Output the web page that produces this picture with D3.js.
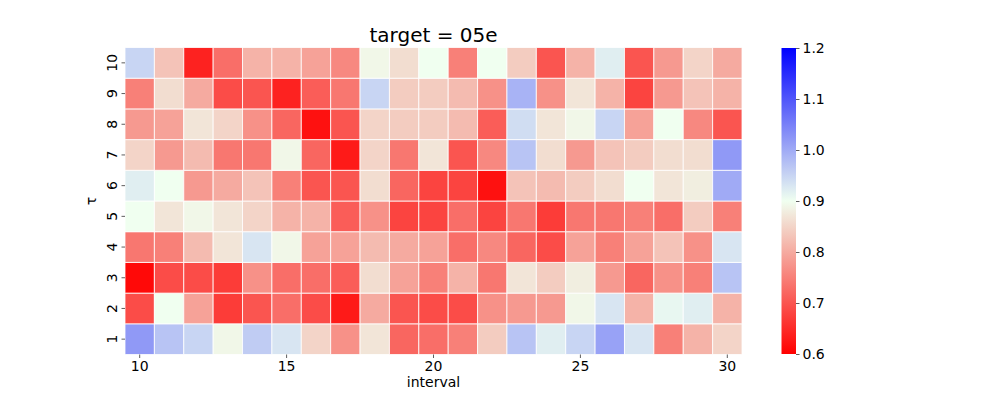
<!DOCTYPE html>
<html>
 <head>
    <title>Heatmap</title>
    <script src="https://d3js.org/d3.v7.min.js"></script>
    <style>
      body { margin: 0; background: #fff; }
      text { font-family: "DejaVu Sans", sans-serif; fill: #000; }
    </style>
 </head>
 <body>
    <div id="heatmap"></div>
    <script>
      // x categories (interval) and y categories (tau)
      var intervals = d3.range(10, 31);
      var taus = [1, 2, 3, 4, 5, 6, 7, 8, 9, 10];

      // one row of values per tau, columns are interval 10..30
      var tau1  = [1.02, 0.97, 0.95, 0.89, 0.96, 0.93, 0.85, 0.77, 0.87, 0.72, 0.73, 0.75, 0.84, 0.97, 0.92, 0.95, 1.01, 0.93, 0.75, 0.81, 0.85];
      var tau2  = [0.69, 0.90, 0.79, 0.67, 0.70, 0.73, 0.69, 0.63, 0.80, 0.70, 0.69, 0.69, 0.77, 0.78, 0.78, 0.89, 0.93, 0.81, 0.91, 0.92, 0.81];
      var tau3  = [0.61, 0.69, 0.69, 0.67, 0.77, 0.73, 0.73, 0.71, 0.86, 0.79, 0.75, 0.81, 0.74, 0.87, 0.84, 0.88, 0.78, 0.72, 0.77, 0.75, 0.97];
      var tau4  = [0.74, 0.75, 0.82, 0.87, 0.93, 0.89, 0.79, 0.79, 0.82, 0.80, 0.79, 0.73, 0.76, 0.72, 0.69, 0.79, 0.75, 0.79, 0.83, 0.77, 0.93];
      var tau5  = [0.90, 0.87, 0.89, 0.87, 0.85, 0.81, 0.81, 0.71, 0.77, 0.68, 0.68, 0.73, 0.68, 0.74, 0.67, 0.74, 0.74, 0.75, 0.73, 0.84, 0.75];
      var tau6  = [0.92, 0.90, 0.78, 0.80, 0.83, 0.75, 0.70, 0.70, 0.86, 0.72, 0.68, 0.68, 0.62, 0.83, 0.82, 0.84, 0.86, 0.90, 0.87, 0.88, 1.00];
      var tau7  = [0.85, 0.78, 0.82, 0.74, 0.74, 0.89, 0.72, 0.63, 0.85, 0.74, 0.87, 0.70, 0.76, 0.97, 0.86, 0.78, 0.83, 0.84, 0.86, 0.86, 1.02];
      var tau8  = [0.78, 0.79, 0.87, 0.85, 0.77, 0.72, 0.62, 0.70, 0.85, 0.84, 0.84, 0.82, 0.71, 0.94, 0.87, 0.89, 0.95, 0.79, 0.90, 0.76, 0.70];
      var tau9  = [0.75, 0.86, 0.80, 0.69, 0.70, 0.64, 0.71, 0.74, 0.95, 0.84, 0.84, 0.82, 0.77, 0.99, 0.77, 0.87, 0.81, 0.68, 0.78, 0.83, 0.81];
      var tau10 = [0.95, 0.83, 0.64, 0.73, 0.81, 0.81, 0.79, 0.76, 0.89, 0.86, 0.90, 0.75, 0.90, 0.84, 0.70, 0.81, 0.92, 0.70, 0.78, 0.85, 0.80];
      var rows = [tau1, tau2, tau3, tau4, tau5, tau6, tau7, tau8, tau9, tau10];

      var xTicks = [10, 15, 20, 25, 30];
      var cbarTicks = [0.6, 0.7, 0.8, 0.9, 1.0, 1.1, 1.2];

      // flatten into cells
      var cells = [];
      rows.forEach(function (vals, i) {
        vals.forEach(function (v, j) {
          cells.push({ tau: taus[i], interval: intervals[j], value: v });
        });
      });

      var width = 997;
      var height = 399;
      var plotLeft = 125, plotRight = 742, plotTop = 47.5, plotBottom = 354.5;

      // red -> honeydew -> blue
      var color = d3.scaleLinear()
        .domain([0.6, 0.9, 1.2])
        .range(["#ff0000", "#f0fff0", "#0000ff"])
        .interpolate(d3.interpolateRgb)
        .clamp(true);

      var x = d3.scaleBand().domain(intervals).range([plotLeft, plotRight]);
      var y = d3.scaleBand().domain(taus.slice().reverse()).range([plotTop, plotBottom]);

      var svg = d3.select("#heatmap")
        .append("svg")
        .attr("width", width)
        .attr("height", height);

      svg.append("g")
        .selectAll("rect")
        .data(cells)
        .enter()
        .append("rect")
        .attr("x", function (d) { return x(d.interval); })
        .attr("y", function (d) { return y(d.tau); })
        .attr("width", x.bandwidth())
        .attr("height", y.bandwidth())
        .attr("fill", function (d) { return color(d.value); })
        .attr("stroke", "#fff")
        .attr("stroke-opacity", 0.8)
        .attr("stroke-width", 1);

      // x axis
      var xAxis = d3.axisBottom(x)
        .tickValues(xTicks)
        .tickSize(3.5)
        .tickPadding(3);
      var gx = svg.append("g")
        .attr("transform", "translate(0," + plotBottom + ")")
        .call(xAxis);
      gx.select(".domain").remove();
      gx.selectAll(".tick line").attr("stroke", "#333").attr("stroke-width", 0.8);
      gx.selectAll(".tick text").style("font-size", "14px").attr("fill", "#000");

      // y axis, labels rotated
      var yAxis = d3.axisLeft(y).tickSize(3.5).tickPadding(3);
      var gy = svg.append("g")
        .attr("transform", "translate(" + plotLeft + ",0)")
        .call(yAxis);
      gy.select(".domain").remove();
      gy.selectAll(".tick line").attr("stroke", "#333").attr("stroke-width", 0.8);
      gy.selectAll(".tick text")
        .style("font-size", "14px")
        .attr("fill", "#000")
        .attr("x", -13)
        .attr("dy", null)
        .attr("text-anchor", "middle")
        .attr("dominant-baseline", "central")
        .attr("transform", "rotate(-90,-13,0)");

      // titles
      svg.append("text")
        .attr("x", (plotLeft + plotRight) / 2)
        .attr("y", 42)
        .attr("text-anchor", "middle")
        .style("font-size", "20px")
        .text("target = 05e");

      svg.append("text")
        .attr("x", (plotLeft + plotRight) / 2)
        .attr("y", 387)
        .attr("text-anchor", "middle")
        .style("font-size", "14px")
        .text("interval");

      svg.append("text")
        .attr("transform", "translate(96," + (plotTop + plotBottom) / 2 + ") rotate(-90)")
        .attr("text-anchor", "middle")
        .style("font-size", "14px")
        .text("τ");

      // colorbar
      var cbLeft = 781.5, cbWidth = 14.5, cbTop = 48, cbBottom = 354;
      var defs = svg.append("defs");
      var grad = defs.append("linearGradient")
        .attr("id", "cbar")
        .attr("x1", 0).attr("y1", 1).attr("x2", 0).attr("y2", 0);
      d3.range(0, 1.0001, 0.05).forEach(function (t) {
        grad.append("stop")
          .attr("offset", t)
          .attr("stop-color", color(0.6 + 0.6 * t));
      });
      svg.append("rect")
        .attr("x", cbLeft)
        .attr("y", cbTop)
        .attr("width", cbWidth)
        .attr("height", cbBottom - cbTop)
        .attr("fill", "url(#cbar)");

      var cScale = d3.scaleLinear().domain([0.6, 1.2]).range([cbBottom, cbTop]);
      var gc = svg.append("g")
        .attr("transform", "translate(" + (cbLeft + cbWidth) + ",0)")
        .call(d3.axisRight(cScale).tickValues(cbarTicks).tickFormat(d3.format(".1f")).tickSize(3.5).tickPadding(3));
      gc.select(".domain").remove();
      gc.selectAll(".tick line").attr("stroke", "#333").attr("stroke-width", 0.8);
      gc.selectAll(".tick text").style("font-size", "14px").attr("fill", "#000");
    </script>
 </body>
</html>
